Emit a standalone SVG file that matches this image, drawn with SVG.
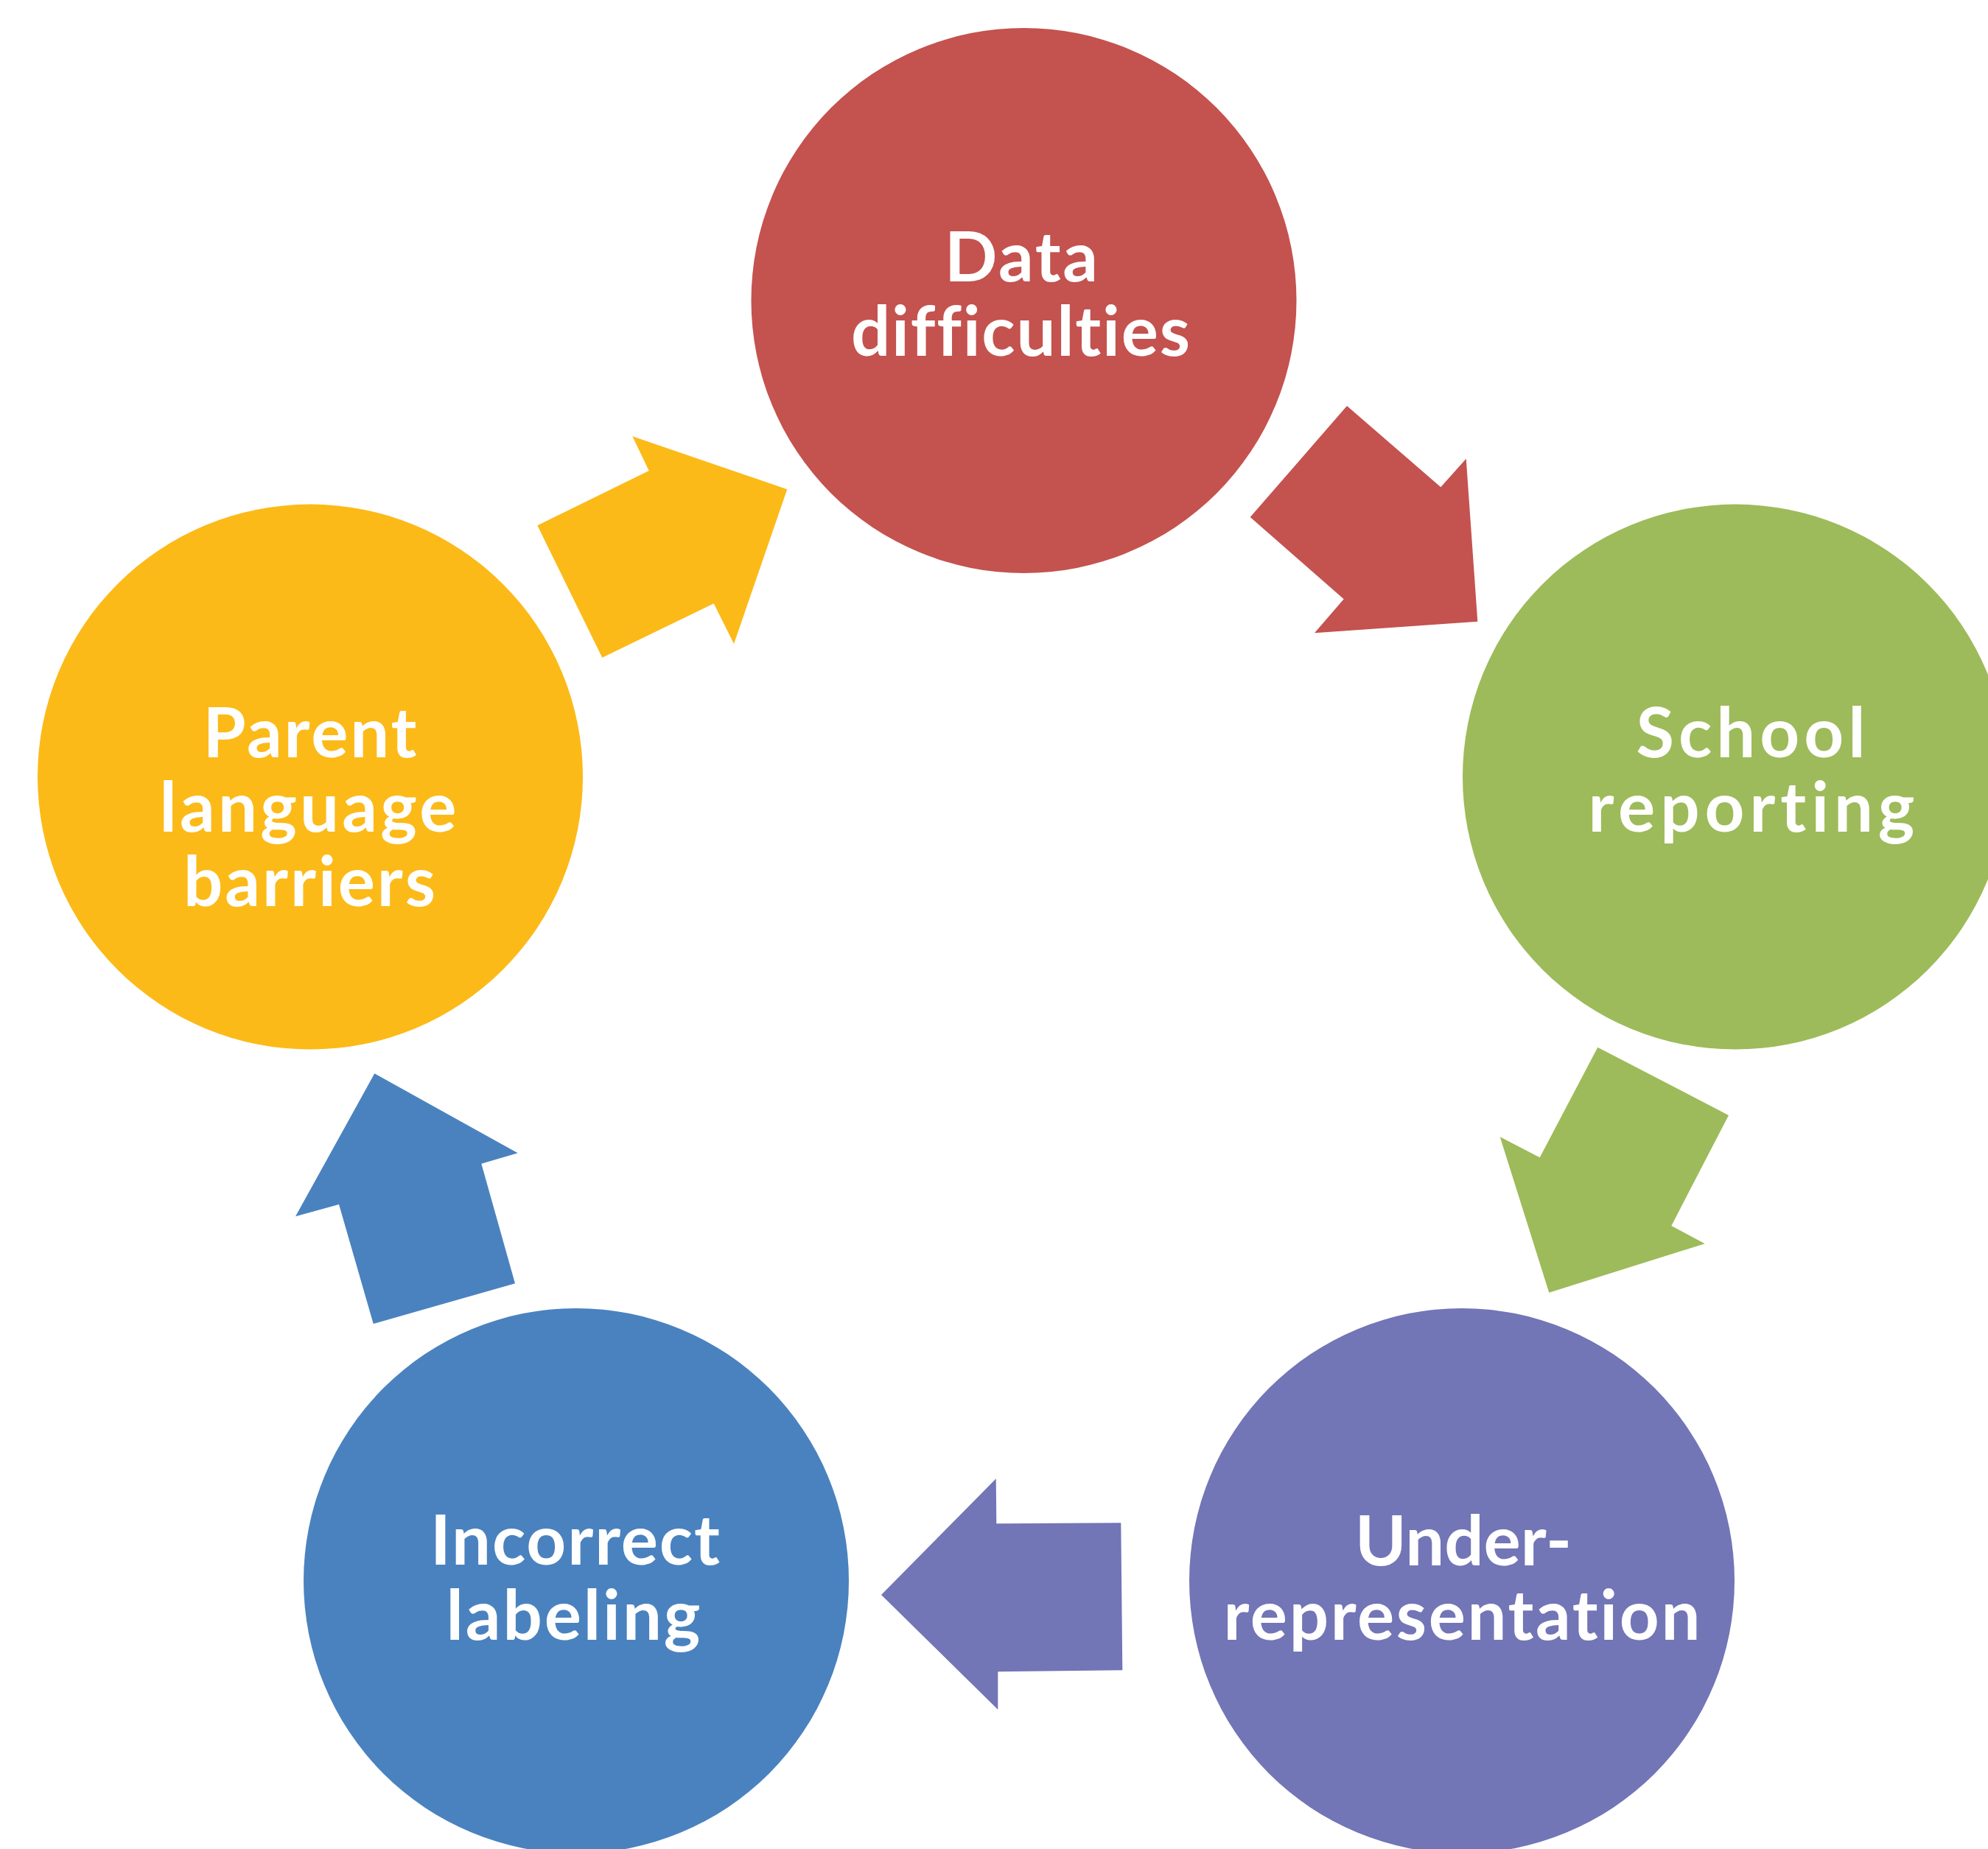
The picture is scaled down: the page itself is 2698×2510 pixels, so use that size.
<svg xmlns="http://www.w3.org/2000/svg" width="2698" height="2510" viewBox="0 0 2698 2510">
<style>
.lbl{font-family:Lato,"Open Sans","Liberation Sans",sans-serif;font-weight:bold;font-size:94px;fill:#FFFFFF;text-anchor:middle;font-variant-ligatures:none;font-feature-settings:"liga" 0,"dlig" 0,"clig" 0}
.red{fill:#C4524F}.green{fill:#9DBB5A}.purple{fill:#7275B6}.blue{fill:#4A82BF}.yellow{fill:#FCBA18}
</style>
<rect width="2698" height="2510" fill="#FFFFFF"/>
<g id="connectors">
<polygon class="red" points="1828,551 1955.3,661.3 1989.7,622.7 2005.3,843.7 1784,859.3 1823.7,813.3 1696.7,702"/>
<polygon class="green" points="2168.3,1421.7 2346,1514 2268.3,1664 2313.7,1688.3 2102.3,1754.7 2035.7,1543.3 2089.7,1571.3"/>
<polygon class="purple" points="1351.7,2007.3 1352.3,2068.3 1521.3,2067.3 1523.3,2267.3 1354.3,2269.3 1354.3,2320.7 1196,2165"/>
<polygon class="blue" points="508.3,1457.3 702.7,1565.3 653.3,1579.7 699,1742.3 506.7,1797 460,1635 401,1651.3"/>
<polygon class="yellow" points="858.3,592.3 1068.3,664.3 996,874 968.7,819.3 817.3,892.7 729.3,713.3 880.7,639"/>
</g>
<g id="node-data">
<circle class="red" cx="1389.5" cy="408" r="370"/>
<text class="lbl" x="1386" y="381.6" textLength="208" lengthAdjust="spacing">Data</text>
<text class="lbl" x="1385" y="482.7" textLength="460" lengthAdjust="spacing">difficulties</text>
</g>
<g id="node-school">
<circle class="green" cx="2355" cy="1054.6" r="370"/>
<text class="lbl" x="2376" y="1028" textLength="311" lengthAdjust="spacing">School</text>
<text class="lbl" x="2377" y="1129" textLength="443" lengthAdjust="spacing">reporting</text>
</g>
<g id="node-under">
<circle class="purple" cx="1984" cy="2146" r="370"/>
<text class="lbl" x="1986" y="2124.5" textLength="294" lengthAdjust="spacing">Under-</text>
<text class="lbl" x="1984" y="2226.3" textLength="647" lengthAdjust="spacing">representation</text>
</g>
<g id="node-incorrect">
<circle class="blue" cx="782" cy="2146" r="370"/>
<text class="lbl" x="780.5" y="2123.5" textLength="393" lengthAdjust="spacing">Incorrect</text>
<text class="lbl" x="778" y="2226" textLength="345" lengthAdjust="spacing">labeling</text>
</g>
<g id="node-parent">
<circle class="yellow" cx="421" cy="1054.6" r="370"/>
<text class="lbl" x="420.4" y="1028" textLength="290" lengthAdjust="spacing">Parent</text>
<text class="lbl" x="418" y="1129" textLength="403" lengthAdjust="spacing">language</text>
<text class="lbl" x="420" y="1230" textLength="342" lengthAdjust="spacing">barriers</text>
</g>
</svg>
